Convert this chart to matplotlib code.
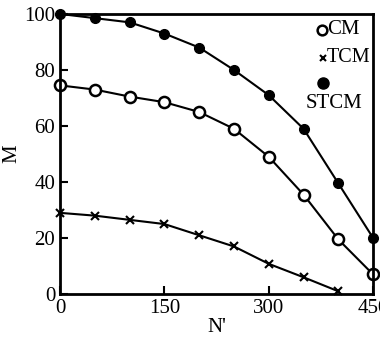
import matplotlib
matplotlib.use("Agg")
import matplotlib.pyplot as plt

N = [0, 50, 100, 150, 200, 250, 300, 350, 400, 450]
CM = [74.5, 73, 70.5, 68.5, 65, 59, 49, 35.5, 19.5, 7]
STCM = [100, 98.5, 97, 93, 88, 80, 71, 59, 39.5, 20]
N_TCM = [0, 50, 100, 150, 200, 250, 300, 350, 400]
TCM = [29, 28, 26.5, 25, 21, 17, 10.8, 6, 1]

xticks = [0, 150, 300, 450]
yticks = [0, 20, 40, 60, 80, 100]

plt.rcParams['font.family'] = ['Liberation Serif', 'DejaVu Serif']
fig = plt.figure(figsize=(3.8, 3.4), dpi=100)
ax = fig.add_axes([0.158, 0.135, 0.824, 0.824])

ax.plot(N, STCM, '-', color='black', lw=1.5, marker='o', ms=7, mfc='black', mec='black', clip_on=False)
ax.plot(N, CM, '-', color='black', lw=1.5, marker='o', ms=8, mfc='white', mec='black', mew=1.8, clip_on=False)
ax.plot(N_TCM, TCM, '-', color='black', lw=1.5, marker='x', ms=6, mec='black', mew=1.5, clip_on=False)

ax.set_xlim(0, 450)
ax.set_ylim(0, 100)
ax.set_xticks(xticks)
ax.set_yticks(yticks)
ax.tick_params(direction='in', length=6, width=1.5, labelsize=15)
for s in ax.spines.values():
    s.set_linewidth(2)
ax.set_xlabel("N'", fontsize=15, labelpad=0)
ax.set_ylabel("M", fontsize=15, labelpad=2)

# legend
ax.plot([0.837], [0.943], 'o', ms=7, mfc='white', mec='black', mew=1.8, transform=ax.transAxes, clip_on=False)
ax.text(0.853, 0.943, "CM", transform=ax.transAxes, fontsize=15, va='center', ha='left')
ax.plot([0.84], [0.843], 'x', ms=4, mec='black', mew=1.5, transform=ax.transAxes, clip_on=False)
ax.text(0.853, 0.843, "TCM", transform=ax.transAxes, fontsize=14.5, va='center', ha='left')
ax.plot([0.84], [0.754], 'o', ms=8, mfc='black', mec='black', transform=ax.transAxes, clip_on=False)
ax.text(0.783, 0.682, "STCM", transform=ax.transAxes, fontsize=15, va='center', ha='left')

fig.savefig("out.png", dpi=100)
